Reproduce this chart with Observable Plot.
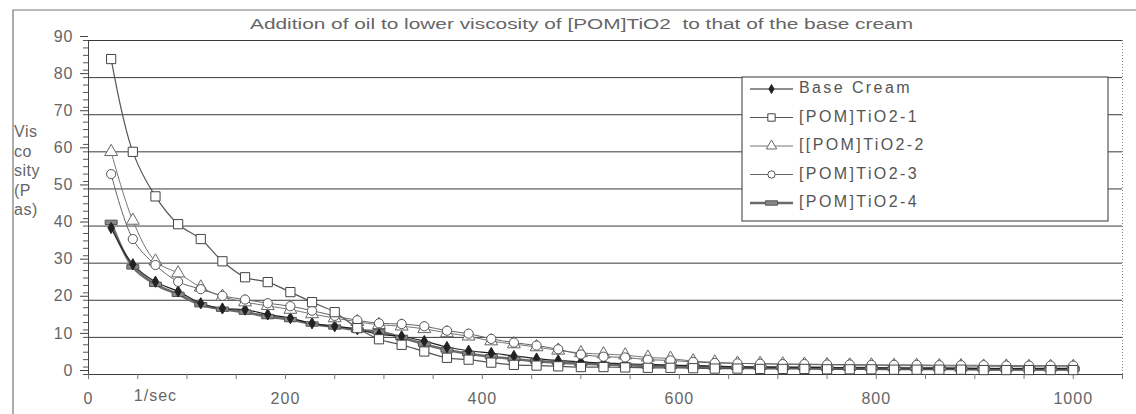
<!DOCTYPE html>
<html><head><meta charset="utf-8">
<script src="https://cdn.jsdelivr.net/npm/d3@7"></script>
<script src="https://cdn.jsdelivr.net/npm/@observablehq/plot@0.6"></script>
<style>
body{margin:0;background:#fff;}
#chart{position:relative;width:1136px;height:414px;overflow:hidden;}
svg{font-family:"Liberation Sans",Arial,sans-serif;}
</style></head><body><div id="chart"></div>
<script>
const shearRate = [23,45,68,91,114,136,159,182,205,227,250,273,295,318,341,364,386,409,432,455,477,500,523,545,568,591,614,636,659,682,705,727,750,773,795,818,841,864,886,909,932,955,977,1000];
const baseCream = [39.5,29.7,25,22.4,19.2,17.8,17.5,16.2,15.2,13.8, 13,12.2,10.8,10.3,9,7.4,6.4,5.8,5,4.3, 3.8,3.4,3.1,2.9,2.7,2.5,2.4,2.2,2.1,2, 2,1.9,1.9,1.8,1.8,1.8,1.7,1.7,1.7,1.6, 1.6,1.6,1.6,1.6];
const pom1 = [85,60,48,40.5,36.5,30.5,26.2,24.9,22.2,19.5, 16.8,12.5,9.5,8,6.2,4.5,4,3.2,2.6,2.4, 2.2,2,2,1.9,1.8,1.8,1.7,1.6,1.6,1.5, 1.5,1.5,1.4,1.4,1.4,1.3,1.3,1.3,1.3,1.2, 1.2,1.2,1.2,1.2];
const pom2 = [60,41.5,30.5,27.3,23.5,21,19.5,18.5,17.5,16.3, 15.2,14.2,13.4,13,12.3,11.2,10.3,9,8.2,7.4, 6.5,5.8,5.5,5.2,4.6,4.3,3.6,3.3,3,2.9, 2.8,2.7,2.6,2.5,2.5,2.4,2.4,2.3,2.3,2.2, 2.2,2.1,2.1,2.1];
const pom3 = [54,36.5,29.5,25,23,21.2,20.2,19.2,18.4,17.2, 15.8,14.6,13.8,13.6,13,11.8,11,9.6,8.6,7.8, 6.8,5.4,4.8,4.6,4,3.8,3.4,3.1,3,2.9, 2.8,2.8,2.7,2.7,2.6,2.6,2.6,2.5,2.5,2.5, 2.4,2.4,2.4,2.4];
const pom4 = [41,29,24.3,21.6,18.8,17.6,16.8,15.6,14.8,13.6, 12.8,12,11.5,10,8.2,6.6,5.6,4.8,4.2,3.6, 3.2,2.9,2.7,2.5,2.3,2.2,2.1,2,1.9,1.9, 1.8,1.8,1.7,1.7,1.7,1.6,1.6,1.6,1.5,1.5, 1.5,1.5,1.5,1.5];
const seriesNames = ["Base Cream","[POM]TiO2-1","[[POM]TiO2-2","[POM]TiO2-3","[POM]TiO2-4"];
const yTicks = [0,10,20,30,40,50,60,70,80,90];
const xTickLabels = [0,200,400,600,800,1000];
const xUnitLabel = ["1/sec"];
const titleText = "Addition of oil to lower viscosity of [POM]TiO2  to that of the base cream";
const yTitleLines = ["Vis","co","sity","(P","as)"];

const allSeries = [baseCream,pom1,pom2,pom3,pom4];
const rows = [];
allSeries.forEach((vals,i)=>vals.forEach((v,j)=>rows.push({series:seriesNames[i], x:shearRate[j], y:v})));
const sel = name => rows.filter(d=>d.series===name);

const dashSymbol = {draw(ctx, size){ ctx.moveTo(-6,-2.2); ctx.lineTo(6,-2.2); ctx.lineTo(6,2.2); ctx.lineTo(-6,2.2); ctx.closePath(); }};
const styles = {
  "Base Cream":   {line:"#222", lw:1.2, symbol:"diamond", r:3.4, fill:"#222", stroke:"#222"},
  "[POM]TiO2-1":  {line:"#555", lw:1.2, symbol:"square", r:5.2, fill:"#fff", stroke:"#444"},
  "[[POM]TiO2-2": {line:"#777", lw:1.0, symbol:"triangle", r:4.8, fill:"#fff", stroke:"#666"},
  "[POM]TiO2-3":  {line:"#666", lw:1.0, symbol:"circle", r:4.6, fill:"#fff", stroke:"#555"},
  "[POM]TiO2-4":  {line:"#6a6a6a", lw:2.6, symbol:dashSymbol, r:4, fill:"#888", stroke:"#555"}
};
const drawOrder = ["[POM]TiO2-4","Base Cream","[[POM]TiO2-2","[POM]TiO2-3","[POM]TiO2-1"];

const seriesMarks = [];
for (const name of drawOrder) {
  const s = styles[name];
  seriesMarks.push(Plot.line(sel(name), {x:"x", y:"y", curve:"catmull-rom", stroke:s.line, strokeWidth:s.lw}));
}
for (const name of drawOrder) {
  const s = styles[name];
  seriesMarks.push(Plot.dot(sel(name), {x:"x", y:"y", symbol:s.symbol, r:s.r, fill:s.fill, stroke:s.stroke, strokeWidth:1}));
}

const chart = Plot.plot({
  width:1136, height:414,
  marginLeft:88, marginRight:14, marginTop:40, marginBottom:40,
  style:{fontSize:"16px", fontFamily:"Liberation Sans, Arial, sans-serif", color:"#555", background:"#fff"},
  x:{domain:[0,1050], label:null},
  y:{domain:[0,90], label:null},
  marks:[
    Plot.ruleY(yTicks, {stroke:"#3a3a3a", strokeWidth:1}),
    Plot.ruleX([1050], {stroke:"#888", strokeDasharray:"1,2"}),
    Plot.axisY({ticks:d3.range(0,91,2), tickSize:5, fill:"none", stroke:"#555", label:null}),
    Plot.axisY({ticks:yTicks, tickSize:8, tickPadding:7, dy:-4, fill:"#666", stroke:"#444", tickFormat:d=>String(d), label:null}),
    Plot.axisX({ticks:d3.range(0,1051,50), tickSize:5, fill:"none", stroke:"#777", label:null}),
    Plot.axisX({ticks:xTickLabels, tickSize:0, tickPadding:18, fill:"#666", tickFormat:d=>String(d), label:null}),
    Plot.text(xUnitLabel, {x:68, frameAnchor:"bottom", dy:26, fill:"#666", fontSize:16, text:d=>d}),
    Plot.ruleX([0], {stroke:"#444"}),
    ...seriesMarks
  ]
});
document.getElementById("chart").appendChild(chart);

const svg = d3.select(chart);
svg.selectAll("text").attr("letter-spacing", "1");

// outer frame
svg.append("path").attr("d","M13,414V10H1136").attr("fill","none").attr("stroke","#777").attr("stroke-width",1.2);

// title
svg.append("text").attr("x",250).attr("y",25).attr("dominant-baseline","middle").attr("text-anchor","start")
  .attr("font-size",14).attr("fill","#666").attr("textLength",663).attr("lengthAdjust","spacingAndGlyphs")
  .text(titleText);

// y axis title
yTitleLines.forEach((t,i)=>{
  svg.append("text").attr("x",14).attr("y",133+i*19.5).attr("dominant-baseline","middle").attr("text-anchor","start")
    .attr("font-size",16).attr("fill","#666").attr("letter-spacing","0.5").text(t);
});

// legend
const lg = svg.append("g");
lg.append("rect").attr("x",742).attr("y",77).attr("width",366).attr("height",144)
  .attr("fill","#fff").attr("stroke","#555").attr("stroke-width",1.2);
seriesNames.forEach((name,i)=>{
  const s = styles[name];
  const cy = 89 + i*28.5;
  lg.append("line").attr("x1",750).attr("x2",793).attr("y1",cy).attr("y2",cy)
    .attr("stroke",s.line).attr("stroke-width",s.lw);
  const symType = typeof s.symbol === "string"
    ? ({diamond:d3.symbolDiamond, square:d3.symbolSquare, triangle:d3.symbolTriangle, circle:d3.symbolCircle})[s.symbol]
    : s.symbol;
  const size = Math.PI*(s.r*0.8)*(s.r*0.8);
  lg.append("path").attr("d", d3.symbol(symType, size)()).attr("transform",`translate(771.5,${cy})`)
    .attr("fill",s.fill).attr("stroke",s.stroke);
  lg.append("text").attr("x",799).attr("y",cy).attr("dominant-baseline","middle").attr("text-anchor","start")
    .attr("font-size",16).attr("fill","#555").attr("letter-spacing","2.4").text(name);
});
</script>
</body></html>
